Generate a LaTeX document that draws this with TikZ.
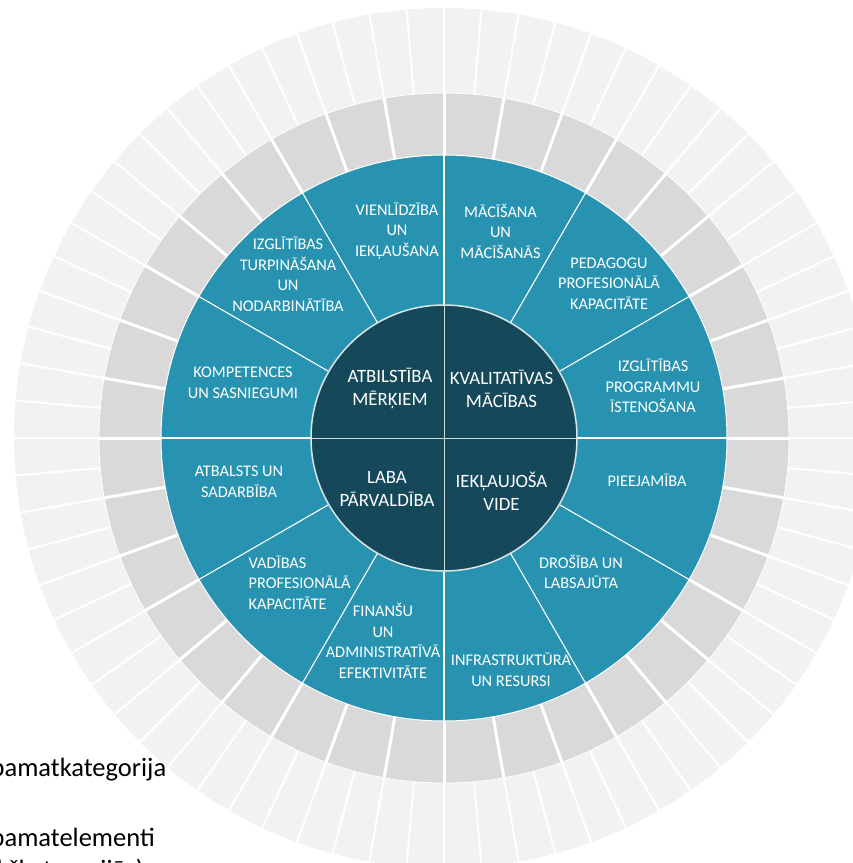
\documentclass[tikz,border=0pt]{standalone}
\usepackage{fontspec}
\setmainfont{Carlito}
\definecolor{tealc}{HTML}{2893B0}
\definecolor{darkc}{HTML}{15495A}
\definecolor{ringg}{HTML}{D9D9D9}
\definecolor{ringl}{HTML}{F2F2F2}
\begin{document}
\begin{tikzpicture}[x=1pt,y=1pt,
  lab/.style={text=white, align=center, font=\fontsize{16.3}{20.5}\selectfont, inner sep=0pt},
  labl/.style={text=white, align=left, font=\fontsize{16.3}{20.5}\selectfont, inner sep=0pt},
  ctr/.style={text=white, align=center, font=\fontsize{18.8}{23}\selectfont, inner sep=0pt},
  leg/.style={text=black, font=\fontsize{26.5}{31}\selectfont, inner sep=0pt, anchor=base west},
  sepl/.style={white, line width=2pt},
  sepg/.style={white, line width=3pt},
  sept/.style={white, line width=1.1pt},
  sepd/.style={white!80!darkc, line width=1pt}]
\useasboundingbox (0,0) rectangle (853,-863);
\clip (0,0) rectangle (853,-863);
\fill[white] (0,0) rectangle (853,-863);
\coordinate (C) at (444,-438);
% rings
\fill[ringl] (C) circle (430);
\fill[ringg] (C) circle (345);
\draw[white, line width=0.8pt] (C) circle (345);
\foreach \a in {0,5,...,355} \draw[sepl, shift={(C)}] (\a:345) -- (\a:432);
\foreach \a in {0,10,...,350} \draw[sepg, shift={(C)}] (\a:283) -- (\a:346);
\fill[tealc] (C) circle (283);
\draw[white, line width=1pt] (C) circle (283);
\foreach \a in {0,30,...,330} \draw[sept, shift={(C)}] (\a:133) -- (\a:283);
\fill[darkc] (C) circle (133);
\foreach \a in {0,90,180,270} \draw[sepd, shift={(C)}] (0,0) -- (\a:133);
\draw[white!85!darkc, line width=1.5pt] (C) circle (133);
% centre labels
\node[ctr] (c1) at (390,-388.5) {ATBILSTĪBA\\MĒRĶIEM};
\node[ctr] (c2) at (501.5,-388.5) {KVALITATĪVAS\\MĀCĪBAS};
\node[ctr] (c3) at (387,-488.5) {LABA\\PĀRVALDĪBA};
\node[ctr] (c4) at (501.5,-491) {IEKĻAUJOŠA\\VIDE};
% ring labels
\node[lab] (s1) at (397,-231) {VIENLĪDZĪBA\\UN\\IEKĻAUŠANA};
\node[lab] (s2) at (288,-274.5) {IZGLĪTĪBAS\\TURPINĀŠANA\\UN\\NODARBINĀTĪBA};
\node[lab] (s3) at (243,-383) {KOMPETENCES\\UN SASNIEGUMI};
\node[lab] (s4) at (500.5,-231) {MĀCĪŠANA\\UN\\MĀCĪŠANĀS};
\node[lab] (s5) at (609,-283.5) {PEDAGOGU\\PROFESIONĀLĀ\\KAPACITĀTE};
\node[lab] (s6) at (653,-386) {IZGLĪTĪBAS\\PROGRAMMU\\ĪSTENOŠANA};
\node[lab] (s7) at (647,-480) {PIEEJAMĪBA};
\node[lab] (s8) at (581,-572) {DROŠĪBA UN\\LABSAJŪTA};
\node[lab] (s9) at (511,-670) {INFRASTRUKTŪRA\\UN RESURSI};
\node[lab] (s10) at (239,-482) {ATBALSTS UN\\SADARBĪBA};
\node[labl, anchor=west] (s11) at (248.5,-582.5) {VADĪBAS\\PROFESIONĀLĀ\\KAPACITĀTE};
\node[lab] (s12) at (383,-641) {FINANŠU\\UN\\ADMINISTRATĪVĀ\\EFEKTIVITĀTE};
% legend
\node[leg] (l1) at (-9.5,-776) {pamatkategorija};
\node[leg] (l2) at (-9.5,-846) {pamatelementi};
\node[leg, anchor=base east] (l3) at (144,-878) {(apakškategorijās)};
\end{tikzpicture}
\end{document}
